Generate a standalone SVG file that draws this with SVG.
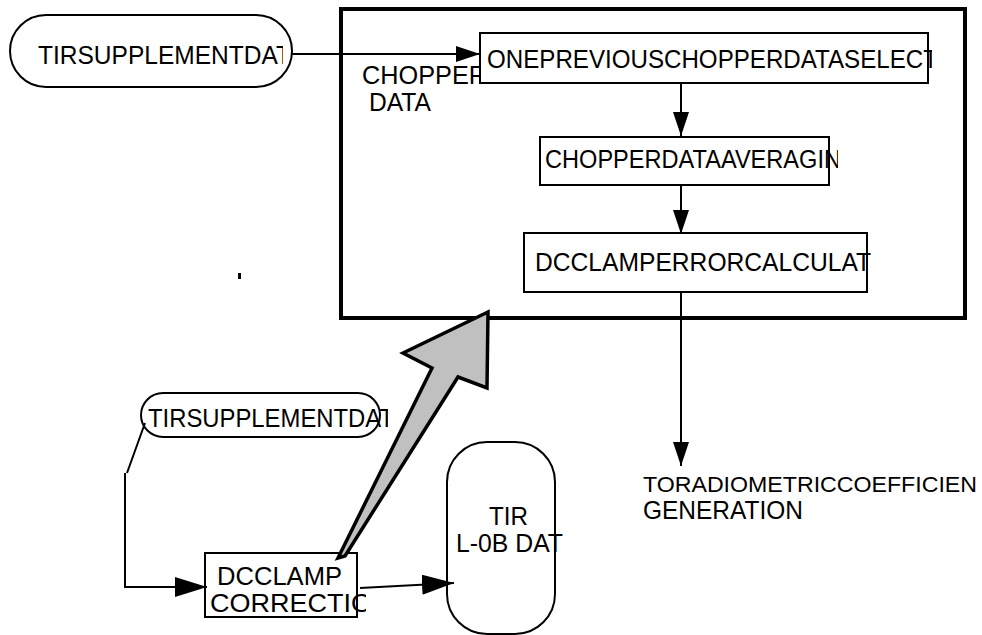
<svg xmlns="http://www.w3.org/2000/svg" width="982" height="635" viewBox="0 0 982 635">
  <style>
    .shape { fill: #ffffff; stroke: #000000; stroke-width: 2; }
    .label { font-family: "Liberation Sans", Arial, sans-serif; font-size: 25px; fill: #000000; }
    .narrow { font-size: 22px; }
    .wire { fill: none; stroke: #000000; stroke-width: 2; }
  </style>
  <defs>
    <marker id="head" viewBox="0 0 24 16" refX="24" refY="8" markerWidth="24" markerHeight="16" markerUnits="userSpaceOnUse" orient="auto">
      <path d="M0,0 L24,8 L0,16 Z" fill="#000000"/>
    </marker>
    <marker id="headBig" viewBox="0 0 32 20" refX="32" refY="10" markerWidth="32" markerHeight="20" markerUnits="userSpaceOnUse" orient="auto">
      <path d="M0,0 L32,10 L0,20 Z" fill="#000000"/>
    </marker>
    <clipPath id="clipSupp1"><rect x="0" y="0" width="283" height="635"/></clipPath>
    <clipPath id="clipSelect"><rect x="0" y="0" width="932" height="635"/></clipPath>
    <clipPath id="clipAvg"><rect x="0" y="0" width="838" height="635"/></clipPath>
    <clipPath id="clipErr"><rect x="0" y="0" width="873" height="635"/></clipPath>
    <clipPath id="clipSupp2"><rect x="0" y="0" width="388" height="635"/></clipPath>
    <clipPath id="clipCorr"><rect x="0" y="0" width="366" height="635"/></clipPath>
  </defs>

  <!-- enclosing process frame -->
  <g id="frame">
    <rect x="341" y="9" width="624" height="309" fill="none" stroke="#000000" stroke-width="4"/>
  </g>

  <!-- label under the first step box -->
  <g id="chopper-data-label">
    <text class="label" x="362" y="84" textLength="125" lengthAdjust="spacingAndGlyphs">CHOPPER</text>
    <text class="label" x="369" y="111" textLength="62" lengthAdjust="spacingAndGlyphs">DATA</text>
  </g>

  <g id="supp-data-top">
    <rect class="shape" x="10" y="15" width="282" height="72" rx="36" ry="36"/>
    <text class="label" x="38" y="64" textLength="253" lengthAdjust="spacingAndGlyphs" clip-path="url(#clipSupp1)">TIRSUPPLEMENTDAT</text>
  </g>

  <g id="select-step">
    <rect class="shape" x="480" y="33" width="448" height="50"/>
    <text class="label" x="487" y="68" textLength="451" lengthAdjust="spacingAndGlyphs" clip-path="url(#clipSelect)">ONEPREVIOUSCHOPPERDATASELECT</text>
  </g>

  <g id="averaging-step">
    <rect class="shape" x="540" y="137" width="289" height="48"/>
    <text class="label" x="545" y="168" textLength="296" lengthAdjust="spacingAndGlyphs" clip-path="url(#clipAvg)">CHOPPERDATAAVERAGIN</text>
  </g>

  <g id="error-calc-step">
    <rect class="shape" x="524" y="233" width="343" height="59"/>
    <text class="label" x="535" y="271" textLength="343" lengthAdjust="spacingAndGlyphs" clip-path="url(#clipErr)">DCCLAMPERRORCALCULATI</text>
  </g>

  <g id="radiometric-target">
    <text class="label narrow" x="643" y="492" textLength="334" lengthAdjust="spacingAndGlyphs">TORADIOMETRICCOEFFICIEN</text>
    <text class="label" x="643" y="519" textLength="160" lengthAdjust="spacingAndGlyphs">GENERATION</text>
  </g>

  <g id="tick-mark">
    <rect x="238" y="273" width="3" height="6" fill="#000000"/>
  </g>

  <g id="supp-data-bottom">
    <rect class="shape" x="141" y="393" width="239" height="44" rx="22" ry="22"/>
    <text class="label" x="148" y="427" textLength="246" lengthAdjust="spacingAndGlyphs" clip-path="url(#clipSupp2)">TIRSUPPLEMENTDAT</text>
  </g>

  <g id="clamp-correction">
    <rect class="shape" x="205" y="553" width="152" height="64"/>
    <text class="label" x="217" y="585" textLength="125" lengthAdjust="spacingAndGlyphs">DCCLAMP</text>
    <text class="label" x="210" y="612" textLength="162" lengthAdjust="spacingAndGlyphs" clip-path="url(#clipCorr)">CORRECTIO</text>
  </g>

  <g id="l0b-data">
    <rect class="shape" x="447" y="442" width="108" height="192" rx="40" ry="40"/>
    <text class="label" x="489" y="525" textLength="39" lengthAdjust="spacingAndGlyphs">TIR</text>
    <text class="label" x="456" y="552" textLength="107" lengthAdjust="spacingAndGlyphs">L-0B DAT</text>
  </g>

  <g id="connectors">
    <line class="wire" x1="292" y1="54" x2="480" y2="54" marker-end="url(#head)"/>
    <line class="wire" x1="681" y1="83" x2="681" y2="136" marker-end="url(#head)"/>
    <line class="wire" x1="681" y1="185" x2="681" y2="234" marker-end="url(#head)"/>
    <line class="wire" x1="681" y1="292" x2="681" y2="466" marker-end="url(#head)"/>
    <polyline class="wire" points="145,423 127,473"/>
    <polyline class="wire" points="125,473 125,587 207,587" marker-end="url(#headBig)"/>
    <line class="wire" x1="360" y1="588" x2="454" y2="583" marker-end="url(#headBig)"/>
    <!-- broad feedback arrow into the frame -->
    <polygon points="338,558 432,368 403,353 488,312 487,388 458,377 345,556" fill="#c0c0c0" stroke="#000000" stroke-width="3.5" stroke-linejoin="miter"/>
  </g>
</svg>
